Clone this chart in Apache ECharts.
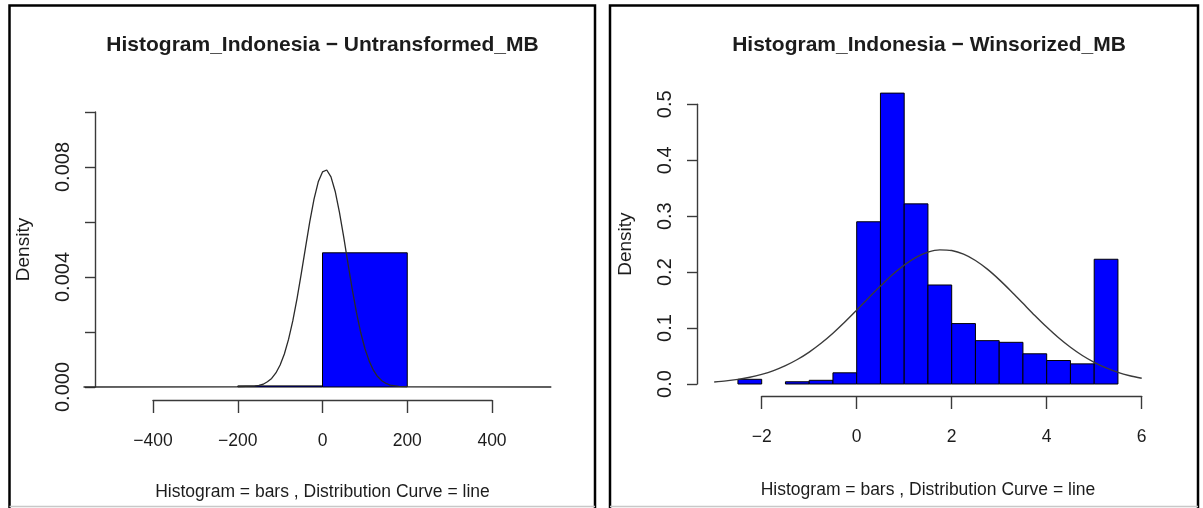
<!DOCTYPE html>
<html>
<head>
<meta charset="utf-8">
<title>Histogram_Indonesia</title>
<script src="https://cdn.jsdelivr.net/npm/echarts@6/dist/echarts.min.js"></script>
<style>
  html, body { margin: 0; padding: 0; background: #fff; }
  #chart { width: 1203px; height: 508px; }
</style>
</head>
<body>
<div id="chart"></div>
<script>
// ---- Untransformed MB: histogram bins and normal curve ----
const leftBreaks = [-200, 0, 200];
const leftDensity = [0.00004, 0.00488];
const leftCurveX = [-564, -200, -160, -150, -140, -130, -120, -110, -100, -90, -80, -70, -60, -50, -40, -30, -20, -10,
  0, 10, 20, 30, 40, 50, 60, 70, 80, 90, 100, 110, 120, 130, 140, 150, 160, 180, 200, 540];
const leftCurveY = [0, 0.00001, 0.00003, 0.00006, 0.0001, 0.00019, 0.00031, 0.00051, 0.0008, 0.0012, 0.00174, 0.00241,
  0.00322, 0.00413, 0.00508, 0.00601, 0.00683, 0.00746, 0.00782, 0.00789, 0.00764, 0.00711, 0.00635, 0.00546,
  0.0045, 0.00357, 0.00272, 0.00199, 0.0014, 0.00095, 0.00061, 0.00038, 0.00023, 0.00013, 0.00007, 0.00002, 0.00001, 0];
const leftTicksX = { min: -400, max: 400, step: 200 };
const leftTicksY = { min: 0, max: 0.010, step: 0.002 };

// ---- Winsorized MB: histogram bins and normal curve ----
const rightBreaks = [-2.5, -2, -1.5, -1, -0.5, 0, 0.5, 1, 1.5, 2, 2.5, 3, 3.5, 4, 4.5, 5, 5.5];
const rightDensity = [0.0084, 0, 0.004, 0.0066, 0.02, 0.29, 0.52, 0.322, 0.177, 0.108, 0.0775, 0.0745, 0.054, 0.042, 0.036, 0.223];
const rightCurveX = [-3, -2.75, -2.5, -2.25, -2, -1.75, -1.5, -1.25, -1, -0.75, -0.5, -0.25, 0, 0.25, 0.5, 0.75,
  1, 1.25, 1.5, 1.75, 2, 2.25, 2.5, 2.75, 3, 3.25, 3.5, 3.75, 4, 4.25, 4.5, 4.75, 5, 5.25, 5.5, 5.75, 6];
const rightCurveY = [0.0036, 0.0055, 0.0083, 0.012, 0.0172, 0.024, 0.0328, 0.0438, 0.0571, 0.0728, 0.0908, 0.1107,
  0.132, 0.1538, 0.175, 0.1952, 0.2126, 0.2263, 0.2356, 0.2398, 0.2386, 0.2321, 0.2208, 0.2053, 0.1866, 0.1659,
  0.1442, 0.1225, 0.1018, 0.0826, 0.0656, 0.0509, 0.0387, 0.0287, 0.0208, 0.0148, 0.0102];
const rightTicksX = { min: -2, max: 6, step: 2 };
const rightTicksY = { min: 0, max: 0.5, step: 0.1 };

// ---- Text ----
const titles = ['Histogram_Indonesia \u2212 Untransformed_MB', 'Histogram_Indonesia \u2212 Winsorized_MB'];
const subtitle = 'Histogram = bars , Distribution Curve = line';
const yName = 'Density';

const FONT = '"Liberation Sans", Arial, Helvetica, sans-serif';
const INK = '#1c1c1c';
const AXIS = '#3a3a3a';

function binRows(breaks, dens) {
  const rows = [];
  for (let i = 0; i < dens.length; i++) {
    if (dens[i] > 0) rows.push([breaks[i], breaks[i + 1], dens[i]]);
  }
  return rows;
}
function pairs(xs, ys) { return xs.map((x, i) => [x, ys[i]]); }

function histItem(params, api) {
  const a = api.coord([api.value(0), api.value(2)]);
  const b = api.coord([api.value(1), 0]);
  return {
    type: 'rect',
    shape: { x: a[0], y: a[1], width: b[0] - a[0], height: b[1] - a[1] },
    style: { fill: '#0000ff', stroke: '#000', lineWidth: 1 }
  };
}

const minusFmt = v => String(v).replace('-', '\u2212');

// Axis frame: the visible R-style axes span only the tick range.
function axisGrid(left, top, width, height) { return { left, top, width, height }; }
// Plot frame: same scale as the axis frame, widened to the full x range of the curve.
function plotGrid(frame, ticks, xmin, xmax) {
  const k = frame.width / (ticks.max - ticks.min);
  return { left: frame.left + (xmin - ticks.min) * k, top: frame.top,
           width: (xmax - xmin) * k, height: frame.height };
}

function xAxisShown(gridIndex, t, offset) {
  return {
    type: 'value', gridIndex, min: t.min, max: t.max, interval: t.step, offset,
    position: 'bottom',
    axisLine: { show: true, onZero: false, lineStyle: { color: AXIS, width: 1.4 } },
    axisTick: { show: true, length: 13, lineStyle: { color: AXIS, width: 1.4 } },
    axisLabel: { color: INK, fontFamily: FONT, fontSize: 17.5, margin: 32, formatter: minusFmt },
    splitLine: { show: false }
  };
}
function yAxisShown(gridIndex, t, offset, fmt, nameGap) {
  return {
    type: 'value', gridIndex, min: t.min, max: t.max, interval: t.step, offset,
    position: 'left',
    name: yName, nameLocation: 'middle', nameRotate: 90, nameGap,
    nameTextStyle: { color: INK, fontFamily: FONT, fontSize: 19 },
    axisLine: { show: true, onZero: false, lineStyle: { color: AXIS, width: 1.4 } },
    axisTick: { show: true, length: 10, lineStyle: { color: AXIS, width: 1.4 } },
    axisLabel: { color: INK, fontFamily: FONT, fontSize: 20, rotate: 90, margin: 22, formatter: fmt,
      showMinLabel: true, showMaxLabel: true },
    splitLine: { show: false }
  };
}
function hiddenAxis(gridIndex, min, max) {
  return { type: 'value', gridIndex, min, max, show: false, splitLine: { show: false } };
}

function panelFrame(x0, x1) {
  return [
    { type: 'polyline', silent: true,
      shape: { points: [[x0, 508], [x0, 5.5], [x1, 5.5], [x1, 508]] },
      style: { stroke: '#000', lineWidth: 2.5, fill: null } },
    { type: 'line', silent: true,
      shape: { x1: x0, y1: 506.5, x2: x1, y2: 506.5 },
      style: { stroke: '#c8c8c8', lineWidth: 1.5 } }
  ];
}
function centeredText(text, x, y, size, weight) {
  return { type: 'text', silent: true, x, y,
    style: { text, fill: INK, font: `${weight} ${size}px ${FONT}`, textAlign: 'center', textVerticalAlign: 'middle' } };
}

const leftFrame = axisGrid(153, 112, 339, 275);
const rightFrame = axisGrid(761.7, 104.3, 380, 279.7);
const leftXMin = leftCurveX[0], leftXMax = leftCurveX[leftCurveX.length - 1];
const rightXMin = rightCurveX[0], rightXMax = rightCurveX[rightCurveX.length - 1];

const chart = echarts.init(document.getElementById('chart'));
chart.setOption({
  backgroundColor: '#fff',
  animation: false,
  grid: [
    leftFrame,
    plotGrid(leftFrame, leftTicksX, leftXMin, leftXMax),
    rightFrame,
    plotGrid(rightFrame, rightTicksX, rightXMin, rightXMax)
  ],
  xAxis: [
    xAxisShown(0, leftTicksX, 13),
    hiddenAxis(1, leftXMin, leftXMax),
    xAxisShown(2, rightTicksX, 12),
    hiddenAxis(3, rightXMin, rightXMax)
  ],
  yAxis: [
    yAxisShown(0, leftTicksY, 58,
      v => (Math.round(v / leftTicksY.step) % 2 === 0 ? v.toFixed(3) : ''), 62),
    hiddenAxis(1, leftTicksY.min, leftTicksY.max),
    yAxisShown(2, rightTicksY, 64.7, v => v.toFixed(1), 62),
    hiddenAxis(3, rightTicksY.min, rightTicksY.max)
  ],
  series: [
    { type: 'custom', name: 'Untransformed_MB', xAxisIndex: 1, yAxisIndex: 1, clip: false,
      renderItem: histItem, data: binRows(leftBreaks, leftDensity), z: 2 },
    { type: 'line', name: 'Untransformed_MB curve', xAxisIndex: 1, yAxisIndex: 1, clip: false,
      showSymbol: false, smooth: false, data: pairs(leftCurveX, leftCurveY),
      lineStyle: { color: '#2a2a2a', width: 1.3 }, z: 3 },
    { type: 'custom', name: 'Winsorized_MB', xAxisIndex: 3, yAxisIndex: 3, clip: false,
      renderItem: histItem, data: binRows(rightBreaks, rightDensity), z: 2 },
    { type: 'line', name: 'Winsorized_MB curve', xAxisIndex: 3, yAxisIndex: 3, clip: false,
      showSymbol: false, smooth: 0.3, data: pairs(rightCurveX, rightCurveY),
      lineStyle: { color: '#3a3a3a', width: 1.4 }, z: 3 }
  ],
  graphic: [
    ...panelFrame(9.5, 595),
    ...panelFrame(610, 1198),
    centeredText(titles[0], 322.5, 45, 21, 'bold'),
    centeredText(titles[1], 929, 45, 21, 'bold'),
    centeredText(subtitle, 322.5, 492, 17.5, 'normal'),
    centeredText(subtitle, 928, 490, 17.5, 'normal')
  ]
});
</script>
</body>
</html>
